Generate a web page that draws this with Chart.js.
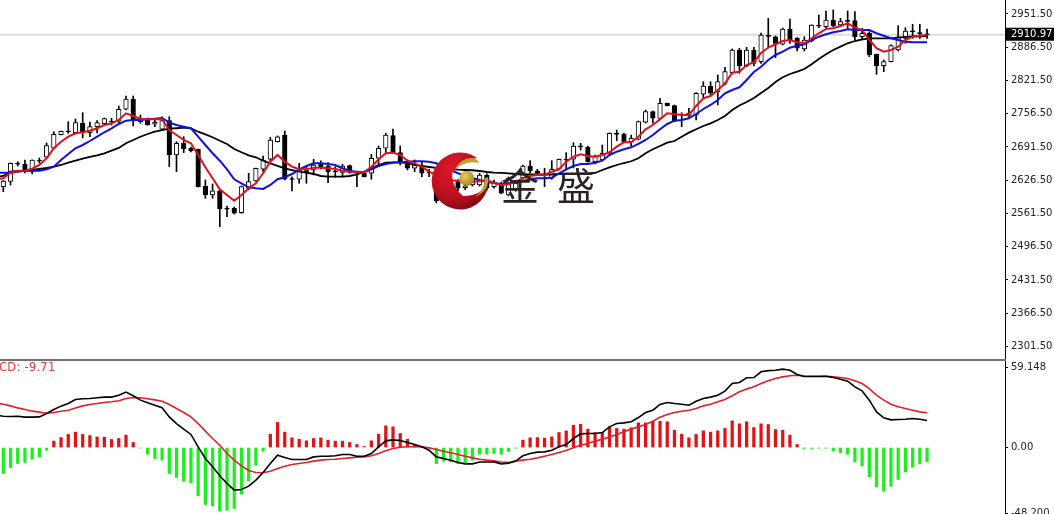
<!DOCTYPE html>
<html><head><meta charset="utf-8">
<script src="https://cdn.jsdelivr.net/npm/chart.js@4"></script>
<style>
html,body{margin:0;padding:0;background:#fff;width:1054px;height:514px;overflow:hidden;position:relative}
canvas{position:absolute;left:0;display:block;filter:blur(.35px)}
#c1{top:0}#c2{top:361px}
#sep{position:absolute;left:0;top:359px;width:1006px;height:2px;background:#707070}
#macdLabel{position:absolute;left:-19px;top:360px;font:11.5px "DejaVu Sans",sans-serif;color:#e23a3a;white-space:nowrap;letter-spacing:.25px;filter:blur(.3px)}
#brand{position:absolute;left:501px;top:156px;font:400 38px/56px "Noto Sans CJK SC",sans-serif;letter-spacing:18px;color:#2a2220;white-space:nowrap;filter:blur(.3px)}
#logo{position:absolute;left:425px;top:150px}
</style></head><body>
<canvas id="c1" width="1054" height="360"></canvas>
<canvas id="c2" width="1054" height="153"></canvas>
<div id="sep"></div>
<div id="macdLabel">MACD: -9.71</div>
<svg id="logo" width="75" height="70" viewBox="425 150 75 70">
<defs>
<radialGradient id="rg" cx="0.4" cy="0.3" r="0.8"><stop offset="0" stop-color="#e0182e"/><stop offset="0.6" stop-color="#bc0f1e"/><stop offset="1" stop-color="#700810"/></radialGradient>
<radialGradient id="gold" cx="0.4" cy="0.35" r="0.7"><stop offset="0" stop-color="#e8d060"/><stop offset="1" stop-color="#a08020"/></radialGradient>
</defs>
<path d="M477,158 A28.5,28.5 0 1 0 488.5,184 Q478,197 463,196 Q452,187 452,175 Q454,163 477,158 Z" fill="url(#rg)"/>
<path d="M455,170 Q460,158 472,158 Q478,159 479,163 Q465,160 455,170 Z" fill="#bfa030"/>
<path d="M475,197 Q484,190 485,178 L488,177 Q490,190 475,197 Z" fill="#bfa030"/>
<circle cx="466.7" cy="178.3" r="7.5" fill="url(#gold)"/>
</svg>
<div id="brand">金盛</div>
<script>
const openS=[2613.9,2624.4,2658.9,2658.3,2643.2,2665.3,2671.4,2689,2715.6,2722.1,2719.5,2737.8,2719.5,2731.2,2737,2741.6,2741.8,2765.2,2785.3,2741,2744.3,2735.9,2726.1,2742.9,2675.9,2698.7,2689,2687,2615.3,2597.7,2606,2570.9,2571.7,2563,2610.8,2625,2647.9,2667.5,2701.9,2715,2628.9,2628.4,2645.2,2646.5,2659.6,2654.4,2643.8,2642,2655,2642,2640.1,2640.1,2669.4,2689,2713.6,2680.4,2660.8,2649.9,2654.4,2641.8,2640.7,2636.8,2607.4,2623.7,2611.9,2617.2,2617.2,2636.8,2613.9,2620.6,2597.7,2607.5,2630.9,2654.4,2644.6,2638.1,2630.3,2647.9,2666.7,2667.5,2692.8,2690.9,2662.8,2666.1,2679.2,2717.5,2716.3,2701.9,2706.6,2739.8,2760.5,2747.6,2776.9,2772.3,2754.7,2752.1,2754.1,2795,2810.8,2799.6,2816,2836.8,2881.1,2849.9,2881.1,2858.3,2909.1,2907.1,2892.3,2922.2,2904,2883.1,2898.7,2928.7,2926.7,2939.8,2930,2938.4,2938.4,2907.1,2913.8,2872.7,2850.4,2858.3,2881.1,2904,2917.6,2914.3,2912.5];
const closeS=[2625,2659.6,2657.7,2645.2,2666.1,2664.1,2694.1,2716.3,2722.2,2720.9,2739,2721.4,2731.2,2739,2746.8,2740.4,2765.2,2785.3,2742.9,2747.6,2734.5,2739.8,2742.9,2675.9,2698.7,2687.6,2683.7,2613.9,2597.7,2606,2570.3,2569.7,2561.9,2613.9,2623.7,2649.9,2666.1,2705.2,2711.6,2628.4,2627.9,2646.5,2641.3,2656.3,2651.8,2643.2,2642.6,2654.4,2642,2640.1,2633.4,2669.4,2689,2715,2680.4,2662.8,2649.9,2657.7,2640.1,2640.6,2585.9,2607.4,2621.1,2610.8,2615.8,2630.9,2636.8,2610.8,2623.1,2601,2630.9,2621.1,2654.4,2644.6,2640.1,2636.8,2647.9,2667.5,2665.5,2693.5,2691.6,2662.8,2673.9,2679.2,2718.3,2716.3,2701.9,2708.5,2741,2760.5,2747.6,2776.9,2772.3,2742.3,2753.5,2758,2796.5,2810.8,2796.5,2819.2,2838.7,2881.1,2849.9,2881.1,2855.1,2910.5,2907.9,2894.2,2922.2,2900.7,2884.5,2900.7,2930,2927.5,2939.8,2928.7,2936.5,2937.2,2907.1,2913.8,2871.4,2850.4,2858.3,2889.6,2907.1,2918.3,2916.4,2913.2,2910.97];
const highS=[2626,2660.2,2662.8,2666.1,2666.5,2670,2699.3,2721.4,2722.6,2741,2746.2,2758.6,2740.4,2742.9,2748.2,2747.6,2771.7,2791.2,2791.2,2754.1,2748.2,2747.6,2750.7,2750.7,2701.9,2711.6,2691.5,2687.6,2627,2619.2,2607,2576.2,2574.2,2615.3,2640.1,2650.5,2673.9,2710.5,2713,2722.8,2633.4,2659.6,2654.4,2667.5,2664.2,2660.8,2653,2657.7,2656.3,2643.2,2640.7,2677.2,2693.5,2718.3,2726.7,2693.5,2666.1,2666.1,2662.8,2647.9,2641.3,2640,2625,2628,2622,2634,2640,2639,2627,2623,2633,2626,2656.3,2664.7,2647.9,2649.9,2664.7,2668,2680.4,2699.9,2698.7,2693.5,2675.9,2695.4,2719,2724.7,2718.9,2715,2742.3,2763.9,2761.9,2786.7,2777.5,2773.6,2758.6,2767.2,2797.7,2819.2,2819.2,2832.3,2847.3,2883.1,2884.5,2886.4,2886.4,2914.4,2943.1,2908.5,2924.2,2941.8,2905.2,2907.1,2930.6,2949.6,2957.4,2959.4,2943.1,2957.4,2956,2923.6,2916.9,2873.3,2861.6,2891,2928.7,2924.7,2931.4,2931.4,2922.2];
const lowS=[2604.1,2617.2,2654.4,2640.7,2638.7,2660.2,2670,2687.6,2715.2,2718.3,2716.9,2709.1,2711.6,2718.9,2736.5,2734.5,2737.8,2763.9,2732.6,2737.8,2734,2731.2,2726,2653,2643.2,2680.4,2681.8,2613.3,2591.2,2591.2,2535.7,2555.2,2560.5,2562,2607.5,2624,2643.2,2664.7,2701,2627,2605.5,2620.6,2620.6,2636.8,2648.5,2621.7,2632.3,2632.9,2640.1,2613.9,2632.9,2628.4,2656.3,2679.2,2679.2,2656.3,2646.5,2643.2,2633.4,2633.4,2582,2603,2605,2605,2608,2615,2615,2607,2611,2600,2596,2605,2629,2640.1,2636.8,2613.9,2628.4,2646.5,2646.5,2650.5,2685.6,2662,2658.3,2664.7,2678,2703.8,2699.9,2693.5,2705.2,2738.4,2737.8,2744.3,2771.7,2741,2731.2,2750.2,2744.3,2786.7,2793.2,2773.6,2812.7,2834.2,2835.6,2848.5,2849.9,2855.1,2887.6,2866.1,2890.9,2894.2,2879.2,2879.2,2896.8,2924.7,2924.2,2926.7,2926.7,2923.6,2900.7,2900.7,2868,2833.6,2838.7,2857.7,2879.2,2894.2,2904,2904,2904];
// line series start one bar before the first candle, so they reach the left edge
const redS=[2628.4,2630.3,2641.3,2645.2,2645.2,2649.1,2656.3,2669.4,2689,2701.9,2711.6,2718.3,2720.3,2723.4,2728.1,2734.5,2737.8,2744.3,2757.4,2752.1,2746.2,2745.7,2745.7,2745.7,2724.7,2715,2705.2,2698.7,2675.9,2651.8,2630.3,2608.8,2597.7,2586.5,2597.7,2610.8,2620.6,2640.1,2662.8,2675.9,2662.8,2653,2647.9,2647.9,2651,2651,2649.9,2648.5,2645.2,2643.2,2642,2642,2653,2667.5,2679.2,2680.4,2675.9,2664.7,2659.6,2653,2643.2,2636.8,2630.9,2627,2625,2623.1,2623.1,2625,2627,2621.1,2617.2,2618.6,2623.7,2630.3,2634.8,2636.8,2636.8,2643.2,2647.9,2662.8,2672.5,2677.2,2673.9,2672.5,2675.9,2681.2,2692.1,2700.7,2700.7,2711.6,2726.1,2734.5,2745.7,2757.4,2756,2754.1,2754.1,2771.7,2786.7,2791.2,2802.9,2816,2836.8,2838.7,2851.8,2857.1,2875.3,2886,2892.3,2898.7,2900.7,2896.2,2894.2,2904,2913.8,2922.2,2923.6,2928.1,2933.3,2924.7,2920.2,2900.7,2884.5,2877.8,2881.1,2887.6,2900.7,2907.1,2909.1,2910.5];
const blueS=[2641.3,2641.3,2641.3,2643.2,2645.2,2645.2,2645.2,2647.9,2653,2666.1,2677.8,2689,2695.4,2703.2,2711.6,2720.3,2728.1,2736.5,2742.9,2744.3,2744.3,2745.7,2746.8,2748.2,2739,2734.5,2731.2,2728.1,2711.6,2695.4,2679.2,2664.7,2647.9,2628.4,2620.6,2612.7,2610.8,2609.4,2617.2,2628.4,2632.3,2638.7,2647.9,2654.4,2659.6,2659.6,2658.3,2656.3,2649.9,2644.6,2643.2,2642,2647.9,2654.4,2658.3,2660.8,2661.6,2662.8,2663.6,2663.6,2662.8,2659.6,2650.5,2646.5,2640.1,2634.8,2630.9,2627,2623.1,2621.1,2619.2,2621.1,2621.7,2625,2628.4,2630.3,2630.3,2631.5,2640.1,2647.9,2654.4,2658.3,2658.3,2660.8,2664.7,2675.9,2682.3,2687,2690.9,2697.4,2705.2,2715,2726.1,2736.5,2742.9,2744.3,2747.6,2756,2765.8,2773.6,2783.4,2796.5,2802.9,2808.2,2822.5,2838.1,2848.5,2861.6,2871.4,2877.8,2885.6,2889.6,2892.3,2900.7,2907.1,2911.8,2915.8,2918.3,2921.6,2920.2,2920.2,2920.2,2913.8,2909.1,2904,2900.7,2897.4,2896.2,2896.2,2896.2];
const blackS=[2632.9,2634.8,2643.2,2644.6,2645.2,2646.5,2648.5,2650.5,2653,2656.3,2660.8,2664.7,2668.6,2672,2675.3,2679.2,2684.3,2689.6,2698.7,2705.2,2711.6,2716.9,2721.4,2724.7,2727.3,2728.1,2729.2,2728.1,2721.4,2716.3,2710.5,2703.8,2697.4,2687.6,2681.2,2675.3,2671.4,2664.7,2659.6,2654.4,2649.9,2646.5,2643.2,2641.3,2638.7,2634.8,2633.4,2633.4,2633.4,2634.8,2638.1,2643.2,2649.9,2656.3,2660.8,2661.6,2661.6,2660.2,2656.3,2654.4,2652.4,2650.5,2649.5,2648.5,2647.1,2646.5,2646,2644.6,2642.6,2641.3,2640.7,2640.1,2638.7,2637.7,2637.7,2637.7,2637.7,2637.7,2638.7,2638.7,2638.7,2639.3,2640.1,2640.7,2646.5,2651.8,2656.3,2660.2,2663.6,2669.4,2679.2,2687,2693.5,2699.9,2703.2,2711.6,2719.5,2726.1,2732.6,2737.8,2744.3,2752.1,2763.9,2772.6,2779.5,2787.3,2797.1,2806.9,2818.6,2827.8,2834.2,2838.7,2844,2853.2,2863.6,2872.7,2881.1,2887.6,2894.2,2898.7,2902.1,2904,2904,2904,2904,2905.2,2906.6,2907.9,2907.9,2908.5];
const histogram=[-19.1,-14.7,-11.8,-11,-8.6,-6.9,-2,4.7,7.3,9.6,11.3,9.6,8.8,7.8,7.6,5.9,6.6,9.1,3.7,-0.4,-4.9,-8.1,-9.3,-19.1,-22,-24.7,-26,-35.5,-41.9,-42.9,-46.6,-46.1,-44.8,-34.3,-24.5,-13,-2.7,9.8,18.4,11.3,7.1,6.1,4.9,6.6,7.1,5.4,4.7,4.7,3.7,2.2,0.7,4.9,9.8,15.9,15.2,10.3,6.1,1.7,0.1,-0.6,-11.8,-10,-10.6,-11.8,-11.8,-9.3,-4.9,-4.9,-4.4,-4.9,-2.9,-0.5,5.4,7.1,7.3,6.9,7.8,11,12.2,16.4,17.1,13.5,11,11,15.2,14,13.5,14.5,18.1,18.1,19.3,19.3,18.9,12.7,9.8,7.1,9.6,12.2,11.3,12.2,14,19.6,17.4,18.9,14.7,17.4,16.9,13.2,12.7,9.1,2.2,-0.7,-0.7,-0.5,-0.5,-2.4,-3.7,-4.9,-10.6,-13.5,-21.6,-28.9,-32.1,-28.4,-23.5,-17.9,-14.5,-12,-10.5];
const macdS=[23.8,23,22.8,23,22.3,22.3,22.5,25,27.9,30.4,32.3,35.3,35.8,36,36.5,37,37,38.4,40.7,38,34.8,32.8,31.1,29.2,22.5,17.6,13.5,9.6,0.5,-8.1,-14.2,-20.8,-26.4,-31.3,-30.9,-28.4,-24,-18.4,-11.8,-5.6,-7.3,-8.8,-8.8,-8.8,-6.9,-6.4,-6.4,-6.1,-5.1,-5.1,-6.4,-6.4,-4.4,0.5,4.9,5.6,5.2,3.7,2.2,0.5,-2,-6.9,-8.1,-9.3,-11,-12,-12,-10.6,-10.6,-10.6,-12,-11.5,-10,-6.1,-4.4,-3.4,-3.2,-2,0.5,2.2,6.6,10,10.3,10.3,11,15.2,17.6,18.1,18.9,22,25.7,27.4,31.6,33.1,32.3,31.8,31.1,34,36,37,38.4,41.4,47,47.8,51.2,51.4,55.6,56.5,56.8,57.6,56.8,53.6,52.2,52.2,52.2,52.4,51.4,50.2,48.7,44.5,41.6,34.8,26.2,21.8,20.3,20.6,20.8,21.3,20.8,19.8];
const signalS=[32.8,31.8,30.6,29.1,27.9,26.7,26,25.2,25.7,26.7,27.4,29.1,30.6,31.6,32.3,33.1,33.6,34.3,36,36.7,36.5,35.8,35,34,31.6,28.7,25.7,22.5,17.6,12,6.6,1.7,-4.4,-9.3,-13.5,-16.9,-18.4,-18.6,-17.4,-15.4,-13.7,-12.5,-11.8,-11,-10,-9.3,-8.8,-8.6,-8.1,-7.6,-7.1,-6.9,-6.1,-4.4,-2.4,-0.7,0.2,0.5,0.5,0.5,-0.2,-1.5,-2.7,-3.9,-5.1,-6.4,-7.6,-8.6,-9.3,-9.8,-10.6,-11,-10,-9.3,-8.6,-7.6,-6.4,-5.1,-3.7,-2.2,-0.2,1.7,2.9,4.7,6.1,7.8,9.5,11.5,13.5,15.2,16.9,19.3,22.3,24.2,25.7,26.7,27.4,28.7,30.6,31.8,33.6,35.3,38,40.9,42.9,44.6,47,49,50.7,51.9,52.7,53.1,52.4,52.4,52.4,52.4,51.9,51.4,50.7,49,47,43.3,38.4,34.8,31.8,29.9,28.7,27.4,26.2,25.5];
const priceTicks=[2951.5,2886.5,2821.5,2756.5,2691.5,2626.5,2561.5,2496.5,2431.5,2366.5,2301.5];
const lastPrice=2910.97;
const macdTicks=[59.148,0,-48.2];
const macdTickLabels=['59.148','0.00','-48.200'];

const XMIN=-0.457,XMAX=138.8;
const pts=a=>a.map((v,i)=>({x:i,y:v}));
const linePts=a=>a.map((v,i)=>({x:i-1,y:v}));
const UP=(o,c)=>c>=o;
const fontTick={family:'"DejaVu Sans",sans-serif',size:10};
const base={responsive:false,animation:false,events:[],
  layout:{padding:0},
  plugins:{legend:{display:false},tooltip:{enabled:false},title:{display:false}}};
const xScale={type:'linear',display:false,min:XMIN,max:XMAX,offset:false};
function yScale(min,max,vals,fmt,extra){return Object.assign({
  position:'right',min,max,
  border:{display:true,color:'#000',width:1},
  grid:{drawOnChartArea:false,drawTicks:true,tickLength:3,color:'#000',tickWidth:1},
  afterBuildTicks(s){s.ticks=vals.map(v=>({value:v}))},
  afterFit(s){s.width=49;s.paddingTop=0;s.paddingBottom=0},
  ticks:{autoSkip:false,includeBounds:false,maxRotation:0,minRotation:0,padding:3,font:fontTick,color:'#222',callback:fmt,align:'center'}
},extra||{});}

const lineDs=(d,c,w,ord)=>({type:'line',data:linePts(d),borderColor:c,borderWidth:w,pointRadius:0,tension:0,fill:false,order:ord,clip:true});

const priceScale=yScale(2275.06,2978.87,priceTicks.concat([lastPrice]),v=>Number(v).toFixed(2));
priceScale.ticks.color=c=>c.tick.value===lastPrice?'#fff':'#222';
priceScale.ticks.showLabelBackdrop=c=>c.tick.value===lastPrice;
priceScale.ticks.backdropColor=c=>c.tick.value===lastPrice?'#000':'rgba(0,0,0,0)';
priceScale.ticks.backdropPadding={top:1,bottom:0,left:5,right:3};

new Chart(document.getElementById('c1'),{type:'bar',
 data:{datasets:[
  lineDs(redS,'#e0101c',2,1),
  lineDs(blueS,'#1010e0',2,2),
  lineDs(blackS,'#000',1.8,3),
  {type:'bar',data:openS.map((o,i)=>({x:i,y:[o,closeS[i]]})),grouped:false,barThickness:4.6,minBarLength:1,borderSkipped:false,borderWidth:1,borderColor:'#000',
   backgroundColor:openS.map((o,i)=>UP(o,closeS[i])?'#fff':'#000'),order:4},
  {type:'bar',data:openS.map((o,i)=>({x:i,y:[lowS[i],highS[i]]})),grouped:false,barThickness:1,borderSkipped:false,borderWidth:0,backgroundColor:'#000',order:5},
  {type:'line',data:[{x:XMIN,y:lastPrice},{x:XMAX,y:lastPrice}],borderColor:'#dcdcdc',borderWidth:2,pointRadius:0,order:6}
 ]},
 options:Object.assign({},base,{scales:{x:xScale,y:priceScale}})
});

new Chart(document.getElementById('c2'),{type:'bar',
 data:{datasets:[
  lineDs(macdS,'#000',1.6,1),
  lineDs(signalS,'#e0202a',1.6,2),
  {type:'bar',data:pts(histogram),grouped:false,barThickness:2.6,borderWidth:0,backgroundColor:histogram.map(v=>v>=0?'#e01414':'#1cf01c'),order:3}
 ]},
 options:Object.assign({},base,{scales:{x:xScale,y:yScale(-48.86,63.56,macdTicks,(v,i)=>macdTickLabels[i])}})
});
</script>
</body></html>
